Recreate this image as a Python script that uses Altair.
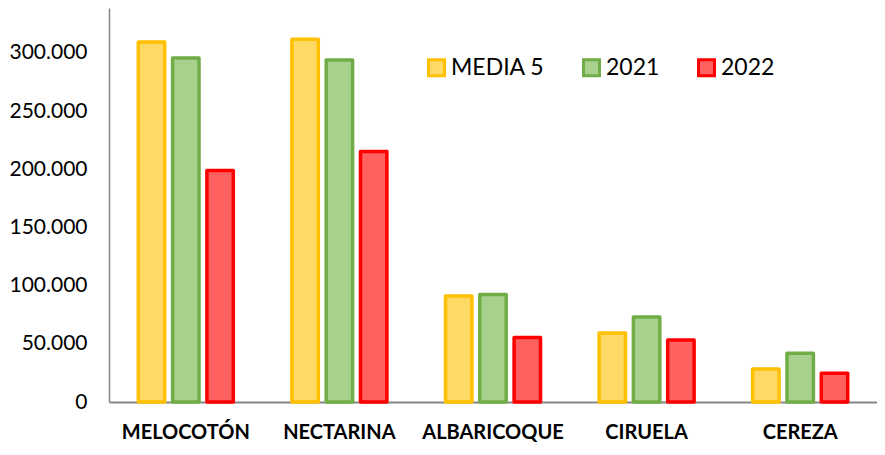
import altair as alt
import pandas as pd

categories = ["MELOCOTÓN", "NECTARINA", "ALBARICOQUE", "CIRUELA", "CEREZA"]
series = ["MEDIA 5", "2021", "2022"]
media5 = [309300, 311600, 91100, 59300, 28400]
y2021 = [295500, 293800, 92400, 73000, 41800]
y2022 = [198900, 215200, 55400, 53300, 24700]
y_ticks = [0, 50000, 100000, 150000, 200000, 250000, 300000]

fills = ["#FFD966", "#A9D18E", "#FF6161"]
strokes = ["#FFC000", "#70AD47", "#FF0000"]

rows = []
for i, c in enumerate(categories):
    for s, vals in zip(series, [media5, y2021, y2022]):
        rows.append({"cat": c, "serie": s, "valor": vals[i]})
df = pd.DataFrame(rows)

legend = alt.Legend(
    title=None, orient="none", legendX=316, legendY=48, direction="horizontal",
    symbolType="square", symbolSize=256, symbolStrokeWidth=3,
    labelFont="Lato", labelFontSize=23, labelColor="#000000",
    columnPadding=32, labelOffset=3,
)

chart = alt.Chart(df).mark_bar(strokeWidth=3.5, strokeJoin="round").encode(
    x=alt.X("cat:N", sort=categories,
            scale=alt.Scale(paddingInner=0.33, paddingOuter=0.165),
            axis=alt.Axis(title=None, labelAngle=0, labelFont="Lato", labelFontWeight="bold",
                          labelFontSize=20, labelColor="#000000", ticks=False,
                          domainColor="#868686", domainWidth=2, labelPadding=20)),
    xOffset=alt.XOffset("serie:N", sort=series,
                        scale=alt.Scale(paddingInner=0.23, paddingOuter=0.115)),
    y=alt.Y("valor:Q", scale=alt.Scale(domain=[0, 338500], nice=False),
            axis=alt.Axis(title=None, values=y_ticks, grid=False, ticks=False,
                          labelFont="Lato", labelFontSize=21, labelColor="#000000",
                          domainColor="#868686", domainWidth=1.5, labelPadding=22,
                          labelExpr="replace(format(datum.value, ','), ',', '.')")),
    fill=alt.Fill("serie:N", sort=series, scale=alt.Scale(domain=series, range=fills), legend=legend),
    stroke=alt.Stroke("serie:N", sort=series, scale=alt.Scale(domain=series, range=strokes), legend=legend),
).properties(
    width=768, height=394,
    padding={"left": 101, "top": 0, "right": 0, "bottom": 40},
    autosize=alt.AutoSizeParams(type="none"),
).configure_view(stroke=None)

chart.save("out.html", embed_options={"renderer": "svg", "actions": False})
